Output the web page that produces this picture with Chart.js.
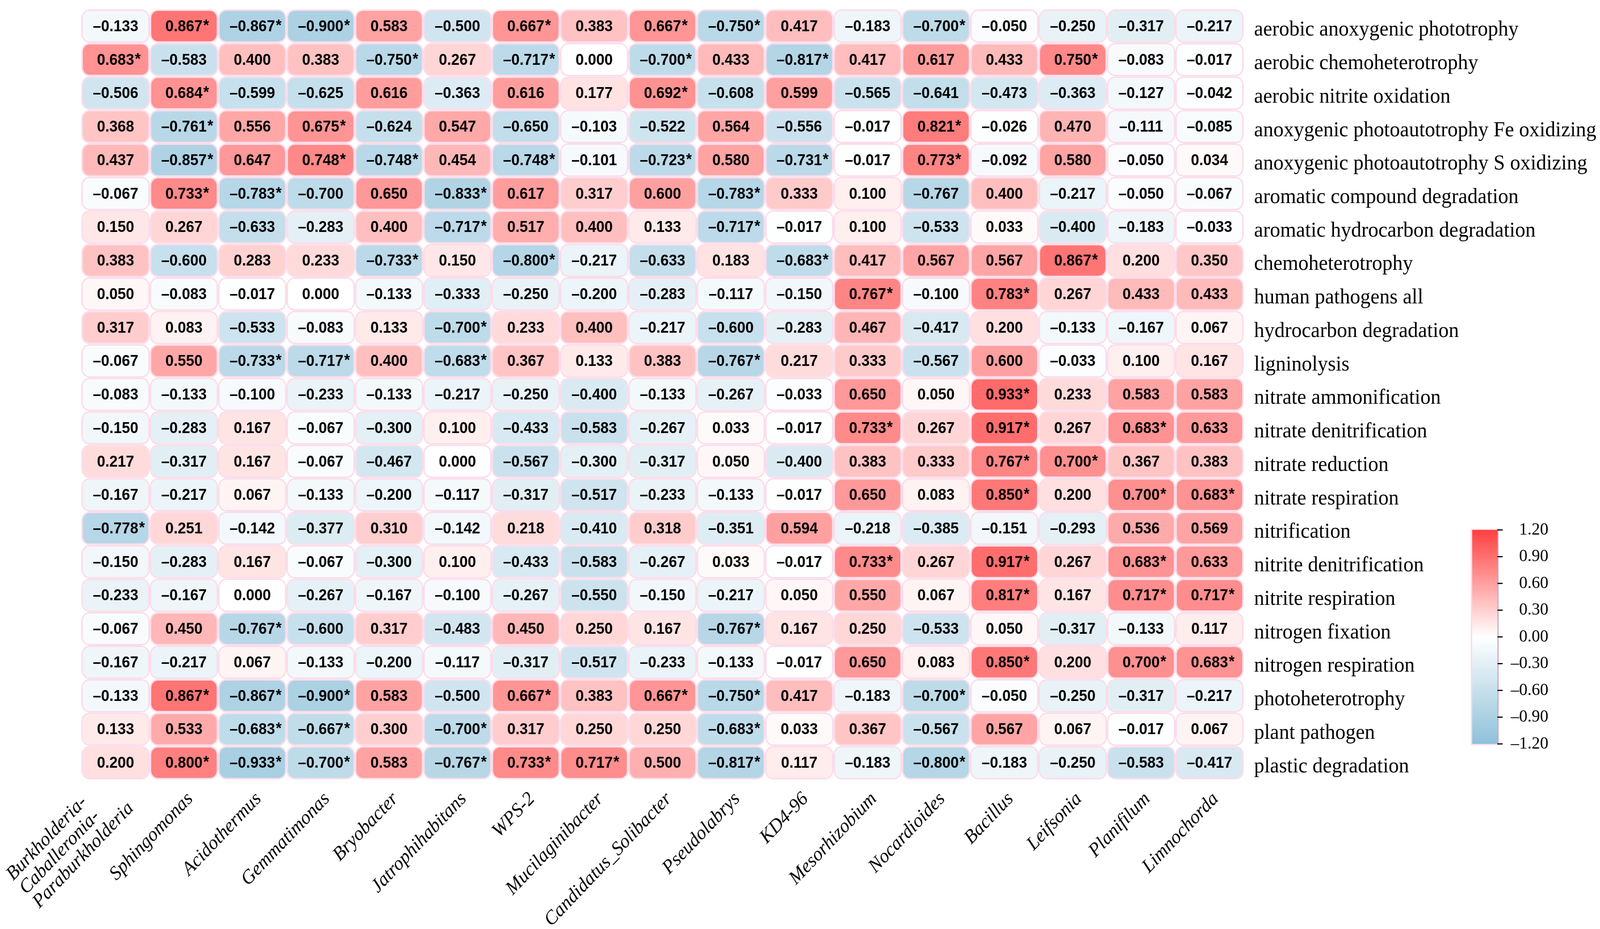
<!DOCTYPE html>
<html>
<head>
<meta charset="utf-8">
<script src="https://cdn.jsdelivr.net/npm/chart.js@4.4.1/dist/chart.umd.min.js"></script>
<style>
html,body{margin:0;padding:0;background:#ffffff;overflow:hidden;width:100%;height:100%;}
canvas{display:block;}
</style>
</head>
<body>
<canvas id="c" width="4306" height="2379" style="width:100vw;height:100vh"></canvas>
<script>
// ---------- DATA ----------
const genera = [
  ['Burkholderia-','Caballeronia-','Paraburkholderia'],
  'Sphingomonas','Acidothermus','Gemmatimonas','Bryobacter','Jatrophihabitans',
  'WPS-2','Mucilaginibacter','Candidatus_Solibacter','Pseudolabrys','KD4-96',
  'Mesorhizobium','Nocardioides','Bacillus','Leifsonia','Planifilum','Limnochorda'
];

const functions = [
  'aerobic anoxygenic phototrophy',
  'aerobic chemoheterotrophy',
  'aerobic nitrite oxidation',
  'anoxygenic photoautotrophy Fe oxidizing',
  'anoxygenic photoautotrophy S oxidizing',
  'aromatic compound degradation',
  'aromatic hydrocarbon degradation',
  'chemoheterotrophy',
  'human pathogens all',
  'hydrocarbon degradation',
  'ligninolysis',
  'nitrate ammonification',
  'nitrate denitrification',
  'nitrate reduction',
  'nitrate respiration',
  'nitrification',
  'nitrite denitrification',
  'nitrite respiration',
  'nitrogen fixation',
  'nitrogen respiration',
  'photoheterotrophy',
  'plant pathogen',
  'plastic degradation'
];

const values = [
  [-0.133, 0.867,-0.867,-0.900, 0.583,-0.500, 0.667, 0.383, 0.667,-0.750, 0.417,-0.183,-0.700,-0.050,-0.250,-0.317,-0.217],
  [ 0.683,-0.583, 0.400, 0.383,-0.750, 0.267,-0.717, 0.000,-0.700, 0.433,-0.817, 0.417, 0.617, 0.433, 0.750,-0.083,-0.017],
  [-0.506, 0.684,-0.599,-0.625, 0.616,-0.363, 0.616, 0.177, 0.692,-0.608, 0.599,-0.565,-0.641,-0.473,-0.363,-0.127,-0.042],
  [ 0.368,-0.761, 0.556, 0.675,-0.624, 0.547,-0.650,-0.103,-0.522, 0.564,-0.556,-0.017, 0.821,-0.026, 0.470,-0.111,-0.085],
  [ 0.437,-0.857, 0.647, 0.748,-0.748, 0.454,-0.748,-0.101,-0.723, 0.580,-0.731,-0.017, 0.773,-0.092, 0.580,-0.050, 0.034],
  [-0.067, 0.733,-0.783,-0.700, 0.650,-0.833, 0.617, 0.317, 0.600,-0.783, 0.333, 0.100,-0.767, 0.400,-0.217,-0.050,-0.067],
  [ 0.150, 0.267,-0.633,-0.283, 0.400,-0.717, 0.517, 0.400, 0.133,-0.717,-0.017, 0.100,-0.533, 0.033,-0.400,-0.183,-0.033],
  [ 0.383,-0.600, 0.283, 0.233,-0.733, 0.150,-0.800,-0.217,-0.633, 0.183,-0.683, 0.417, 0.567, 0.567, 0.867, 0.200, 0.350],
  [ 0.050,-0.083,-0.017, 0.000,-0.133,-0.333,-0.250,-0.200,-0.283,-0.117,-0.150, 0.767,-0.100, 0.783, 0.267, 0.433, 0.433],
  [ 0.317, 0.083,-0.533,-0.083, 0.133,-0.700, 0.233, 0.400,-0.217,-0.600,-0.283, 0.467,-0.417, 0.200,-0.133,-0.167, 0.067],
  [-0.067, 0.550,-0.733,-0.717, 0.400,-0.683, 0.367, 0.133, 0.383,-0.767, 0.217, 0.333,-0.567, 0.600,-0.033, 0.100, 0.167],
  [-0.083,-0.133,-0.100,-0.233,-0.133,-0.217,-0.250,-0.400,-0.133,-0.267,-0.033, 0.650, 0.050, 0.933, 0.233, 0.583, 0.583],
  [-0.150,-0.283, 0.167,-0.067,-0.300, 0.100,-0.433,-0.583,-0.267, 0.033,-0.017, 0.733, 0.267, 0.917, 0.267, 0.683, 0.633],
  [ 0.217,-0.317, 0.167,-0.067,-0.467, 0.000,-0.567,-0.300,-0.317, 0.050,-0.400, 0.383, 0.333, 0.767, 0.700, 0.367, 0.383],
  [-0.167,-0.217, 0.067,-0.133,-0.200,-0.117,-0.317,-0.517,-0.233,-0.133,-0.017, 0.650, 0.083, 0.850, 0.200, 0.700, 0.683],
  [-0.778, 0.251,-0.142,-0.377, 0.310,-0.142, 0.218,-0.410, 0.318,-0.351, 0.594,-0.218,-0.385,-0.151,-0.293, 0.536, 0.569],
  [-0.150,-0.283, 0.167,-0.067,-0.300, 0.100,-0.433,-0.583,-0.267, 0.033,-0.017, 0.733, 0.267, 0.917, 0.267, 0.683, 0.633],
  [-0.233,-0.167, 0.000,-0.267,-0.167,-0.100,-0.267,-0.550,-0.150,-0.217, 0.050, 0.550, 0.067, 0.817, 0.167, 0.717, 0.717],
  [-0.067, 0.450,-0.767,-0.600, 0.317,-0.483, 0.450, 0.250, 0.167,-0.767, 0.167, 0.250,-0.533, 0.050,-0.317,-0.133, 0.117],
  [-0.167,-0.217, 0.067,-0.133,-0.200,-0.117,-0.317,-0.517,-0.233,-0.133,-0.017, 0.650, 0.083, 0.850, 0.200, 0.700, 0.683],
  [-0.133, 0.867,-0.867,-0.900, 0.583,-0.500, 0.667, 0.383, 0.667,-0.750, 0.417,-0.183,-0.700,-0.050,-0.250,-0.317,-0.217],
  [ 0.133, 0.533,-0.683,-0.667, 0.300,-0.700, 0.317, 0.250, 0.250,-0.683, 0.033, 0.367,-0.567, 0.567, 0.067,-0.017, 0.067],
  [ 0.200, 0.800,-0.933,-0.700, 0.583,-0.767, 0.733, 0.717, 0.500,-0.817, 0.117,-0.183,-0.800,-0.183,-0.250,-0.583,-0.417]
];

// column indices (per row) of cells marked with *
const signif = [
  [1,2,3,6,8,9,12],
  [0,4,6,8,10,14],
  [1,8],
  [1,3,12],
  [1,3,4,6,8,10,12],
  [1,2,5,9],
  [5,9],
  [4,6,10,14],
  [11,13],
  [5],
  [2,3,5,9],
  [13],
  [11,13,15],
  [13,14],
  [13,15,16],
  [0],
  [11,13,15],
  [13,15,16],
  [2,9],
  [13,15,16],
  [1,2,3,6,8,9,12],
  [2,3,5,9],
  [1,2,3,5,6,7,9,12]
];

const colorbarTicks = [1.2, 0.9, 0.6, 0.3, 0, -0.3, -0.6, -0.9, -1.2];
const colorRange = 1.2;

// ---------- STYLE ----------
const RED_END  = [255, 64, 64];
const BLUE_END = [143, 193, 218];
const CELL_BORDER = '#fbdcea';

function colorFor(v){
  const f = Math.min(Math.abs(v) / colorRange, 1);
  const end = v >= 0 ? RED_END : BLUE_END;
  const c = end.map(e => Math.round(255 - (255 - e) * f));
  return `rgb(${c[0]},${c[1]},${c[2]})`;
}
function fmt(v, d){
  const s = Math.abs(v).toFixed(d);
  return (v < 0 && parseFloat(s) !== 0 ? '\u2013' : '') + s;
}

const cellText = {
  id: 'cellText',
  afterDatasetsDraw(chart){
    const ctx = chart.ctx;
    ctx.save();
    ctx.fillStyle = '#000';
    ctx.textBaseline = 'middle';
    ctx.font = 'bold 40px "Liberation Sans", Arial, sans-serif';
    chart.data.datasets.forEach((ds, i) => {
      const meta = chart.getDatasetMeta(i);
      meta.data.forEach((el, j) => {
        const p = el.getCenterPoint();
        const txt = fmt(values[i][j], 3);
        ctx.textAlign = 'center';
        ctx.fillText(txt, p.x, p.y + 2);
        if (signif[i].includes(j)) {
          const w = ctx.measureText(txt).width;
          ctx.textAlign = 'left';
          ctx.fillText('*', p.x + w / 2 + 2, p.y);
        }
      });
    });
    ctx.restore();
  }
};

// rotated genus labels under the columns (positions from the x scale)
const columnLabels = {
  id: 'columnLabels',
  afterDraw(chart){
    const ctx = chart.ctx, xs = chart.scales.x, bottom = chart.chartArea.bottom;
    ctx.save();
    ctx.fillStyle = '#000';
    ctx.font = 'italic 50px "Liberation Serif", serif';
    ctx.textBaseline = 'middle';
    ctx.textAlign = 'left';
    const lh = 50, tEnd = -18;
    genera.forEach((lab, i) => {
      const lines = Array.isArray(lab) ? lab : [lab];
      const maxW = Math.max(...lines.map(l => ctx.measureText(l).width));
      const n = lines.length;
      const pMid = n === 1 ? 42 : 26;
      ctx.save();
      ctx.translate(xs.getPixelForTick(i), bottom);
      ctx.rotate(-Math.PI / 4);
      lines.forEach((ln, k) => {
        ctx.fillText(ln, tEnd - maxW, pMid + (k - (n - 1) / 2) * lh);
      });
      ctx.restore();
    });
    ctx.restore();
  }
};

const colorBar = {
  id: 'colorBar',
  afterDraw(chart){
    const ctx = chart.ctx;
    const x0 = 3962, x1 = 4030, top = 1357, bot = 1905;
    ctx.save();
    ctx.fillStyle = CELL_BORDER;
    ctx.fillRect(x0 - 4, top - 3, x1 - x0 + 7, bot - top + 6);
    const g = ctx.createLinearGradient(0, top, 0, bot);
    g.addColorStop(0, colorFor(colorRange));
    g.addColorStop(0.5, colorFor(0));
    g.addColorStop(1, colorFor(-colorRange));
    ctx.fillStyle = g;
    ctx.fillRect(x0, top, x1 - x0, bot - top);
    ctx.strokeStyle = '#c8a6bb';
    ctx.lineWidth = 3;
    ctx.beginPath(); ctx.moveTo(x1 + 1.5, top - 3); ctx.lineTo(x1 + 1.5, bot + 3); ctx.stroke();
    ctx.strokeStyle = '#000';
    ctx.lineWidth = 3;
    ctx.fillStyle = '#000';
    ctx.font = '45px "Liberation Serif", serif';
    ctx.textAlign = 'right';
    ctx.textBaseline = 'middle';
    colorbarTicks.forEach(t => {
      const y = top + (colorRange - t) / (2 * colorRange) * (bot - top);
      ctx.beginPath(); ctx.moveTo(x1, y); ctx.lineTo(x1 + 14, y); ctx.stroke();
      ctx.fillText(fmt(t, 2), 4167, y);
    });
    ctx.restore();
  }
};

function noPad(s){ s.paddingTop = 0; s.paddingBottom = 0; s.paddingLeft = 0; s.paddingRight = 0; }

function draw(){
  const ctx = document.getElementById('c').getContext('2d');
  new Chart(ctx, {
    type: 'bar',
    data: {
      labels: genera,
      datasets: functions.map((f, i) => ({
        label: f,
        data: genera.map(() => [i - 0.5, i + 0.5]),
        backgroundColor: values[i].map(colorFor),
        borderColor: CELL_BORDER,
        borderWidth: 4,
        borderRadius: 22,
        borderSkipped: false,
        grouped: false,
        barPercentage: 1,
        categoryPercentage: 1,
        inflateAmount: 0
      }))
    },
    options: {
      responsive: false,
      animation: false,
      devicePixelRatio: 1,
      layout: { padding: { left: 219, top: 24, right: 0, bottom: 0 } },
      plugins: { legend: { display: false }, tooltip: { enabled: false } },
      scales: {
        x: {
          grid: { display: false },
          border: { display: false },
          ticks: { display: false, autoSkip: false },
          afterFit(s){ s.height = 383; noPad(s); }
        },
        y: {
          type: 'linear', position: 'right', reverse: true, min: -0.5, max: 22.5,
          grid: { display: false },
          border: { display: false },
          afterBuildTicks(s){ s.ticks = functions.map((_, i) => ({ value: i })); },
          ticks: {
            callback: v => functions[v],
            padding: 20, labelOffset: 10, color: '#000',
            font: { family: '"Liberation Serif", serif', size: 55 }
          },
          afterFit(s){ s.width = 959; noPad(s); }
        }
      }
    },
    plugins: [cellText, columnLabels, colorBar]
  });
}

Promise.all([
  document.fonts.load('bold 40px "Liberation Sans"'),
  document.fonts.load('45px "Liberation Serif"'),
  document.fonts.load('italic 50px "Liberation Serif"')
]).then(draw, draw);
</script>
</body>
</html>
